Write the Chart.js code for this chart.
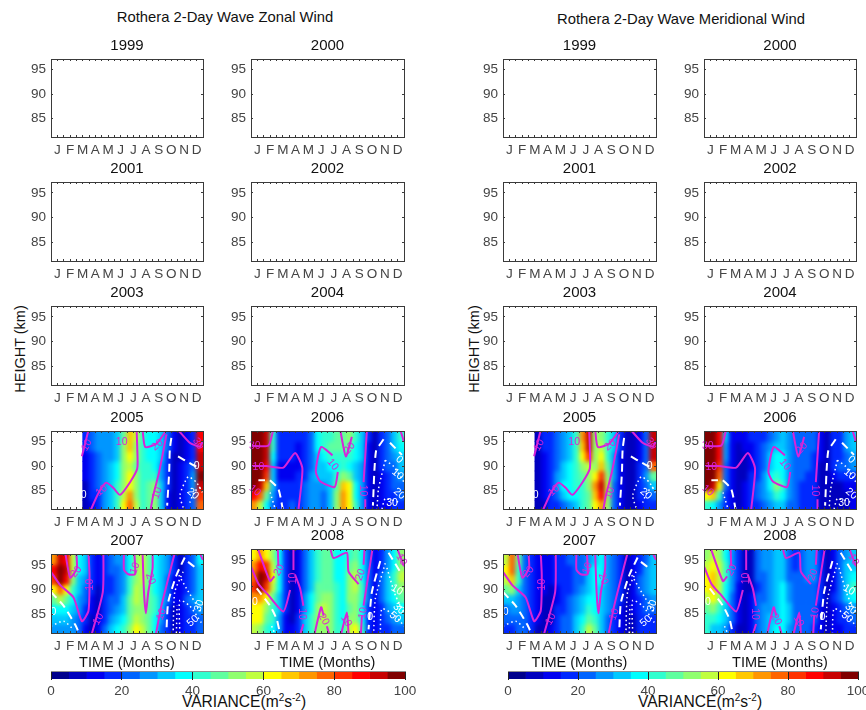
<!DOCTYPE html>
<html>
<head>
<meta charset="utf-8">
<title>Rothera 2-Day Wave</title>
<script src="https://cdn.jsdelivr.net/npm/chart.js@4"></script>
<style>
html, body { margin: 0; padding: 0; background: #fff; overflow: hidden; width: 866px; height: 710px; }
body { position: relative; font-family: Arial, "Liberation Sans", sans-serif; color: #111; }
canvas { position: absolute; }
.txt { position: absolute; white-space: nowrap; transform: translate(-50%, -50%); }
.txt sup { font-size: 10px; line-height: 0; }
</style>
</head>
<body>
<div class="txt" style="left:225px;top:17px;font-size:14.8px">Rothera 2-Day Wave Zonal Wind</div>
<div class="txt" style="left:681px;top:19px;font-size:14.8px">Rothera 2-Day Wave Meridional Wind</div>
<div class="txt" style="left:20px;top:349px;font-size:14.5px;transform:translate(-50%,-50%) rotate(-90deg)">HEIGHT (km)</div>
<div class="txt" style="left:474px;top:349px;font-size:14.5px;transform:translate(-50%,-50%) rotate(-90deg)">HEIGHT (km)</div>
<div class="txt" style="left:244px;top:702px;font-size:15.6px">VARIANCE(m<sup>2</sup>s<sup>-2</sup>)</div>
<div class="txt" style="left:700px;top:702px;font-size:15.6px">VARIANCE(m<sup>2</sup>s<sup>-2</sup>)</div>
<script>
const monthLabels = ['J','F','M','A','M','J','J','A','S','O','N','D'];
const heightTicks = [85, 90, 95];
const varianceTicks = [0, 20, 40, 60, 80, 100];
const halfMonths = ['1a','1b','2a','2b','3a','3b','4a','4b','5a','5b','6a','6b','7a','7b','8a','8b','9a','9b','10a','10b','11a','11b','12a','12b'];
const rowEdges = [97.4, 95, 93, 91, 89, 87, 85, 83, 81];
const palette = ['#00008c','#0000be','#0000f0','#0028ff','#0064ff','#0096ff','#00c8ff','#00ffff','#30ffcf','#60ff9f','#90ff6f','#c0ff3f','#ffff00','#ffc800','#ff9600','#ff6400','#ff3200','#ff0000','#c80000','#800000'];

// rows run from the top of the plot to the bottom, columns are half months
const zonal2005 = [
  [null,null,null,null,null,18,24,26,26,28,32,48,68,55,40,38,36,34,22,11,9,11,15,85],
  [null,null,null,null,null,17,22,26,26,28,32,50,65,52,40,38,36,32,20,11,9,11,17,88],
  [null,null,null,null,null,13,18,24,26,28,33,50,60,50,40,38,36,30,18,9,9,13,18,90],
  [null,null,null,null,null,13,18,22,26,30,36,52,58,48,40,40,38,28,17,8,11,15,22,92],
  [null,null,null,null,null,11,18,20,26,30,38,52,60,50,42,42,42,28,15,8,11,17,25,95],
  [null,null,null,null,null,9,17,20,26,32,40,54,64,50,42,46,52,30,15,8,11,17,25,90],
  [null,null,null,null,null,7,15,18,26,34,42,56,70,52,42,48,54,32,13,7,11,17,22,80],
  [null,null,null,null,null,7,13,18,26,34,44,60,76,56,44,48,52,32,13,7,11,15,20,75]
];
const zonal2006 = [
  [97,97,92,42,19,17,17,15,18,20,36,40,44,46,48,50,42,32,15,9,18,22,30,42],
  [97,97,92,40,17,17,15,11,17,22,36,40,46,48,48,46,38,30,13,9,18,22,30,38],
  [97,97,90,38,15,15,15,11,15,24,34,38,44,44,42,40,36,30,13,9,17,22,26,32],
  [97,97,88,34,13,11,13,13,18,24,30,34,36,36,40,38,34,28,11,9,17,20,24,30],
  [97,96,80,30,13,11,13,15,18,26,30,30,32,40,54,46,34,26,11,7,13,18,22,26],
  [96,92,65,30,15,15,15,17,20,26,28,26,30,46,66,60,36,26,11,7,13,18,20,24],
  [88,78,48,26,17,17,18,18,22,26,26,24,30,50,70,62,38,26,11,7,11,15,18,20],
  [72,58,38,24,18,18,20,18,22,26,26,22,32,52,72,64,40,26,13,7,11,13,15,18]
];
const zonal2007 = [
  [72,90,85,55,38,32,17,11,18,24,26,28,36,50,58,48,36,30,26,17,9,17,24,38],
  [85,97,92,55,36,30,17,11,17,20,22,26,38,52,58,48,36,30,26,15,9,17,24,34],
  [80,97,85,50,34,28,17,11,15,18,20,26,40,54,56,46,36,30,24,13,11,18,22,30],
  [60,75,60,42,30,24,15,9,15,18,22,28,44,56,54,46,38,30,22,11,11,18,24,30],
  [46,55,46,36,28,20,13,9,15,20,24,32,46,56,52,46,40,30,20,11,11,20,26,30],
  [36,38,36,30,26,18,11,9,17,22,26,34,46,54,50,46,40,30,18,9,11,18,24,26],
  [30,32,30,28,24,17,9,11,18,26,32,38,48,56,52,46,38,28,18,9,11,17,18,22],
  [26,28,28,26,20,13,9,13,22,32,36,42,50,64,58,48,36,24,15,9,11,15,18,20]
];
const zonal2008 = [
  [62,70,62,50,36,17,9,11,24,32,44,46,46,38,36,42,46,36,22,13,18,28,38,50],
  [70,88,80,58,36,17,9,11,24,32,44,46,46,38,36,46,50,36,22,13,18,28,38,52],
  [78,97,90,60,36,17,9,11,24,32,44,46,46,38,36,50,56,38,22,13,20,30,40,56],
  [80,97,82,56,36,17,9,13,24,34,46,48,48,40,38,52,58,40,22,13,20,32,42,54],
  [70,72,62,48,32,17,9,13,26,36,48,50,50,40,38,50,54,40,20,13,20,30,38,46],
  [60,62,50,42,30,15,9,13,28,38,50,56,52,42,38,48,50,38,18,13,18,26,32,38],
  [60,62,46,40,28,13,9,15,30,40,50,58,52,42,38,50,54,38,18,13,18,22,26,30],
  [58,50,42,38,26,11,11,17,32,40,50,54,50,42,40,56,60,40,18,13,17,18,20,24]
];
const merid2005 = [
  [null,null,null,null,null,8,15,18,22,28,34,44,70,92,50,50,44,32,17,6,6,11,20,90],
  [null,null,null,null,null,8,15,18,22,28,34,44,68,90,50,55,44,30,15,6,6,11,20,90],
  [null,null,null,null,null,8,13,18,22,28,34,44,62,80,50,60,44,28,13,6,6,13,22,92],
  [null,null,null,null,null,8,13,18,24,32,36,44,52,56,52,68,46,26,11,6,8,15,24,75],
  [null,null,null,null,null,7,13,18,26,34,36,42,46,50,60,80,50,26,11,6,8,17,26,45],
  [null,null,null,null,null,7,13,18,26,36,38,40,44,50,70,90,56,24,11,6,8,17,22,30],
  [null,null,null,null,null,7,11,18,24,32,36,38,42,48,68,88,54,24,11,6,8,15,18,24],
  [null,null,null,null,null,6,9,15,18,24,28,34,40,48,62,74,50,22,11,6,8,13,17,18]
];
const merid2006 = [
  [97,97,88,30,13,11,13,15,17,18,22,28,32,26,22,22,22,20,11,7,15,18,26,34],
  [97,97,88,28,11,9,11,13,17,20,26,30,34,28,22,20,22,20,11,7,15,18,26,32],
  [97,97,86,26,11,9,9,13,17,22,32,36,36,28,20,20,20,18,11,7,15,18,24,28],
  [97,97,84,24,11,9,9,13,18,24,34,38,36,28,22,22,20,18,9,7,15,20,24,26],
  [97,96,78,22,11,9,9,15,18,26,36,44,38,28,22,20,18,18,9,6,13,18,18,18],
  [95,90,60,20,11,9,11,17,20,28,38,50,40,28,22,18,18,18,9,6,9,9,11,13],
  [62,66,40,15,11,9,11,17,20,26,34,44,36,26,20,18,18,17,9,6,7,7,9,11],
  [40,36,28,17,11,9,11,15,18,24,28,34,30,24,20,18,18,17,9,7,7,7,9,11]
];
const merid2007 = [
  [58,78,48,24,17,13,13,11,17,18,20,20,24,28,34,36,26,22,18,9,11,17,24,34],
  [62,78,44,24,17,13,13,11,17,18,18,20,24,30,36,38,28,22,18,9,13,18,26,34],
  [56,66,40,22,15,13,13,11,15,18,18,20,24,30,36,36,28,22,17,9,13,20,28,32],
  [46,50,34,22,15,11,11,9,13,18,18,22,26,32,36,34,28,22,17,9,13,20,26,30],
  [34,34,28,22,15,11,9,6,13,18,20,26,30,36,36,32,28,20,15,9,11,18,24,26],
  [24,26,26,22,17,11,6,6,15,18,22,28,34,42,38,32,26,20,13,9,11,18,22,22],
  [20,22,24,22,18,11,6,9,17,20,24,30,38,46,42,32,24,18,13,9,9,17,18,18],
  [18,18,20,22,18,9,6,11,18,22,24,30,40,56,46,30,22,18,13,7,9,15,17,17]
];
const merid2008 = [
  [52,58,50,38,28,15,7,9,20,26,26,30,32,24,18,24,28,26,18,7,13,20,26,32],
  [56,62,56,40,28,15,7,9,20,26,26,30,34,24,18,24,28,26,18,7,13,22,30,34],
  [60,66,58,40,28,15,7,9,20,24,26,32,34,24,20,24,26,26,17,7,13,22,30,38],
  [62,68,56,38,26,13,7,9,18,24,26,32,36,26,20,22,24,24,17,9,13,22,32,40],
  [56,60,50,36,24,13,7,11,20,24,28,32,36,28,22,22,24,24,15,9,15,22,30,36],
  [48,50,42,34,24,11,7,11,22,26,28,32,36,30,24,22,24,22,13,9,13,18,24,28],
  [44,42,38,32,22,11,7,13,22,28,30,34,38,30,24,22,22,20,11,9,13,17,18,20],
  [40,34,32,28,18,9,7,13,22,28,30,36,38,28,24,22,22,18,11,9,11,13,17,18]
];

// mean wind contours, [month, height] along each line
const solid2005 = [
  [[2.44,92],[2.96,97.4]],
  [[3.14,81],[3.75,84.5],[4.35,86.6],[4.93,85.5],[5.45,84.1],[6.24,86.7],[6.81,89.5],[6.81,93.7],[6.76,97.4]],
  [[7.23,97.4],[7.44,93.9],[8.33,94.6],[9.12,97.4]],
  [[7.86,81],[8.07,84],[8.54,88.8],[9.12,96.5]],
  [[10.03,97.4],[10.95,94.8],[11.74,94],[11.95,95]]
];
const dashed2005 = [
  [[9.5,95.8],[9.38,93.4],[9.33,88.8],[9.17,81.9]],
  [[10.03,92],[10.95,90.6],[11.47,89.9]]
];
const dotted2005 = [
  [[10.43,81.5],[10.17,84],[10.82,87.8],[11.47,86.7],[11.95,84.6]],
  [[10.95,82.5],[11.34,84.8],[11.95,86]]
];
const labels2005 = [
  ['10',2.83,94.3,-60,'m'],['10',5.58,95,0,'m'],['10',4,85,-40,'m'],['20',8.4,94.3,-40,'m'],['10',8.4,84.5,-70,'m'],['30',11.6,94.6,60,'m'],
  ['0',2.57,84,0,'w'],['0',11.5,90,0,'w'],['20',11.2,84.3,40,'w']
];
const solid2006 = [
  [[0,94.2],[1.36,94.2],[1.75,97.4]],
  [[0,90],[1.2,90],[2.54,89.7],[3.46,92.7],[4.03,89.5],[3.72,81]],
  [[6.39,92.2],[5.5,93.9],[5.08,88.9],[5.42,86.9],[6.55,85.7],[6.81,88.8]],
  [[7,97.4],[7.44,92],[7.91,96]],
  [[9.09,97.4],[8.83,86.7]],
  [[8.96,83.2],[8.96,81]],
  [[11.71,97.4],[12,95]]
];
const dashed2006 = [
  [[0.58,87.1],[1.1,87.1]],
  [[1.49,87.1],[2.15,85.3],[2.49,81.2]],
  [[10.4,95.5],[9.8,93],[9.56,81.9]],
  [[10.9,94.8],[11.84,92.3]]
];
const dotted2006 = [
  [[1.5,84.6],[1.9,81.2]],
  [[10.53,91.2],[10,85.3],[9.88,81.2]],
  [[10.53,91.2],[11.2,89.9],[12,86.7]],
  [[10.27,81.2],[10.53,83.3],[11.58,82.6]]
];
const labels2006 = [
  ['30',0.3,94.2,0,'m'],['10',0.58,89.7,0,'m'],['10',0.3,85,40,'m'],['10',6.4,90.3,50,'m'],['20',7.73,93.7,-50,'m'],['10',8.78,85,90,'m'],
  ['0',11.63,91.3,40,'w'],['10',11.5,88.3,40,'w'],['20',11.63,84.3,40,'w'],['30',11.06,82.4,0,'w']
];
const solid2007 = [
  [[1.13,97.4],[1.52,92.4],[2.04,94.3],[2,97.4]],
  [[0,93.6],[0.73,90.9],[1.78,88.4],[2.44,83.6],[2.96,85.7],[3.04,92.9],[2.96,97.4]],
  [[4.14,97.4],[4.09,89.5],[3.22,81]],
  [[5.76,97.4],[5.76,94],[6.1,93.1],[6.63,93.1],[6.58,97.4]],
  [[7.23,97.4],[7.34,89.5],[7.49,85.2],[7.68,89.5],[8.02,94.3],[8.02,97.4]],
  [[9.77,97.4],[9.25,92.2],[8.72,86.7],[8.28,81]],
  [[11.74,97.4],[12,96]]
];
const dashed2007 = [
  [[10.56,96.5],[9.9,92.9],[9.25,87.4],[9.12,81.9]],
  [[10.82,95.6],[11.47,94.3]],
  [[0,89.5],[1,86.7],[1.9,82.9],[2.25,81]]
];
const dotted2007 = [
  [[10.43,93.6],[9.77,89.5],[9.64,81.2]],
  [[10.1,92.9],[10.7,90.2],[11.87,85.3]],
  [[10.17,81.2],[10.17,87.8],[10.95,86.7],[11.87,83.3]],
  [[9.9,81.2],[9.95,86.7]],
  [[0,82.6],[1,83.6],[1.78,81.9]]
];
const labels2007 = [
  ['20',2,93.6,-50,'m'],['10',3.09,91,-90,'m'],['10',3.75,84,-60,'m'],['10',6.63,94.3,-70,'m'],['20',7.86,92.2,70,'m'],['10',8.72,85,-70,'m'],
  ['0',0.2,85.5,0,'w'],['50',11.2,83.6,-40,'w'],['30',11.7,86.7,-70,'w']
];
const solid2008 = [
  [[0.52,97.4],[1.49,91.1],[1.83,92]],
  [[0,93.9],[0.58,90.6],[1.36,88.4],[2.54,85.3],[3.07,89.4]],
  [[2.1,97.4],[2.15,93.9]],
  [[3.33,97.4],[3.33,93.2]],
  [[3.46,92.3],[3.85,89.7],[4.11,86.4]],
  [[4.11,82.9],[3.85,80.9]],
  [[4.98,81],[5.5,86.1],[5.7,84.5]],
  [[5.95,82.5],[6.13,81]],
  [[6.21,97.4],[6.47,95.5],[7.52,96.5],[7.65,92.9],[8.44,90.5]],
  [[7.07,81],[7.52,85.1],[7.65,81]],
  [[8.91,97.4],[8.83,94.2]],
  [[9.54,97.4],[8.83,86.4]],
  [[8.7,84.5],[8.62,81]],
  [[11.45,97.4],[12,93.9]]
];
const dashed2008 = [
  [[0.45,89.7],[1.49,86.4],[2.02,83.8],[2.28,81]],
  [[10.14,94.9],[9.48,89],[9.22,81.9]],
  [[10.79,96.5],[11.84,92.3]]
];
const dotted2008 = [
  [[10.53,94.5],[9.75,87.7],[9.62,81]],
  [[10.66,93.6],[11.32,88.4],[12,85.1]],
  [[10.14,81],[10.27,85.8],[11.32,84.5],[12,82.5]],
  [[1.62,82.5],[1.89,81]]
];
const labels2008 = [
  ['20',2.2,93.2,-60,'m'],['10',3.33,91.6,-90,'m'],['10',4.03,84.8,90,'m'],['20',5.7,83.8,60,'m'],['10',7.47,83.5,60,'m'],['20',8.6,92.3,-70,'m'],['10',8.78,85,-80,'m'],['10',11.8,95.2,60,'m'],
  ['0',0.3,87,0,'w'],['0',9.35,84.2,0,'w'],['10',11.45,89.4,30,'w'],['30',11.6,85.8,40,'w'],['50',11.3,84.2,40,'w']
];

const contours = {
  2005: { solid: solid2005, dashed: dashed2005, dotted: dotted2005, labels: labels2005 },
  2006: { solid: solid2006, dashed: dashed2006, dotted: dotted2006, labels: labels2006 },
  2007: { solid: solid2007, dashed: dashed2007, dotted: dotted2007, labels: labels2007 },
  2008: { solid: solid2008, dashed: dashed2008, dotted: dotted2008, labels: labels2008 }
};
const years = [[1999, 2000], [2001, 2002], [2003, 2004], [2005, 2006], [2007, 2008]];

// pixel layout of the plot boxes
const sides = [
  { cols: [[51, 203], [251, 404]], heat: { 2005: zonal2005, 2006: zonal2006, 2007: zonal2007, 2008: zonal2008 } },
  { cols: [[503, 656], [704, 856]], heat: { 2005: merid2005, 2006: merid2006, 2007: merid2007, 2008: merid2008 } }
];
const rowBoxes = [[59, 137], [182, 261], [306, 385], [431, 509], [554, 633]];
const AXIS = '#3a3a3a', TICK_TEXT = '#444', MAGENTA = '#d824d8';

function colorFor(v) {
  return palette[Math.min(19, Math.floor(v / 5))];
}

// the source is a filled contour plot, so soften the cells once they are all painted
const smoothHeat = {
  id: 'smoothHeat',
  afterDatasetDraw(chart, args) {
    if (args.index !== 0) return;
    const a = chart.chartArea;
    const first = chart.data.datasets[0].data.findIndex(d => d !== null);
    const x0 = first > 0 ? Math.round(chart.scales.xm.getPixelForValue(first / 2)) : a.left;
    const ctx = chart.ctx;
    ctx.save();
    ctx.beginPath();
    ctx.rect(x0, a.top, a.right - x0, a.bottom - a.top);
    ctx.clip();
    ctx.filter = 'blur(2.2px)';
    ctx.drawImage(chart.canvas, x0, a.top, a.right - x0, a.bottom - a.top, x0, a.top, a.right - x0, a.bottom - a.top);
    ctx.restore();
  }
};

const contourLabels = {
  id: 'contourLabels',
  afterDatasetsDraw(chart, args, opts) {
    const ctx = chart.ctx;
    ctx.save();
    ctx.font = '10.5px Arial, "Liberation Sans"';
    ctx.textAlign = 'center';
    ctx.textBaseline = 'middle';
    for (const [text, m, h, angle, kind] of opts.items) {
      ctx.save();
      ctx.translate(chart.scales.xm.getPixelForValue(m), chart.scales.y.getPixelForValue(h));
      ctx.rotate(angle * Math.PI / 180);
      ctx.fillStyle = kind === 'm' ? MAGENTA : '#ffffff';
      ctx.fillText(text, 0, 0);
      ctx.restore();
    }
    ctx.restore();
  }
};

function makeCanvas(left, top, width, height) {
  const c = document.createElement('canvas');
  c.width = width;
  c.height = height;
  c.style.left = left + 'px';
  c.style.top = top + 'px';
  c.style.width = width + 'px';
  c.style.height = height + 'px';
  document.body.appendChild(c);
  return c;
}

function drawPanel(box, yBox, year, heat, showTime) {
  // rightSpace has to cover the tick padding or the layout shrinks the plot
  const titleSpace = 22, leftSpace = 34, rightSpace = 8;
  const bottomSpace = showTime ? 39 : 24;
  const plotW = box[1] - box[0], plotH = yBox[1] - yBox[0];
  const canvas = makeCanvas(box[0] - leftSpace, yBox[0] - titleSpace, leftSpace + plotW + rightSpace, titleSpace + plotH + bottomSpace);

  const datasets = [];
  if (heat) {
    heat.forEach((row, i) => {
      const band = [rowEdges[i + 1], rowEdges[i]];
      datasets.push({
        type: 'bar',
        data: row.map(v => v === null ? null : band),
        backgroundColor: row.map(v => v === null ? 'rgba(0,0,0,0)' : colorFor(v)),
        borderWidth: 0,
        barPercentage: 1,
        categoryPercentage: 1,
        grouped: false,
        xAxisID: 'xc',
        yAxisID: 'y',
        order: 2
      });
    });
    const c = contours[year];
    const addLines = (lines, color, width, dash) => lines.forEach(line => datasets.push({
      type: 'line',
      data: line.map(([x, y]) => ({ x, y })),
      borderColor: color,
      borderWidth: width,
      borderDash: dash,
      pointRadius: 0,
      tension: 0.2,
      fill: false,
      xAxisID: 'xm',
      yAxisID: 'y',
      order: 1
    }));
    addLines(c.solid, MAGENTA, 2, []);
    addLines(c.dashed, '#ffffff', 2, [8, 5]);
    addLines(c.dotted, '#ffffff', 1.5, [1.5, 3]);
  }

  const baseGrid = { drawOnChartArea: false, tickLength: -2, color: AXIS, z: 1, offset: false };
  new Chart(canvas, {
    type: 'bar',
    data: { labels: halfMonths, datasets },
    plugins: heat ? [smoothHeat, contourLabels] : [],
    options: {
      responsive: false,
      animation: false,
      events: [],
      layout: { padding: { right: rightSpace } },
      plugins: {
        legend: { display: false },
        tooltip: { enabled: false },
        title: {
          display: true,
          text: String(year),
          fullSize: false,
          color: '#111',
          font: { size: 15, weight: 'normal', family: 'Arial, "Liberation Sans"', lineHeight: 1.2 },
          padding: { top: 0, bottom: 4 }
        },
        contourLabels: heat ? { items: contours[year].labels } : undefined
      },
      scales: {
        xc: { type: 'category', axis: 'x', display: false, offset: true },
        xm: {
          type: 'linear', axis: 'x', position: 'bottom', min: 0, max: 12, offset: false,
          grid: baseGrid,
          border: { color: AXIS, width: 1, z: 1 },
          ticks: {
            stepSize: 0.5, autoSkip: false, maxRotation: 0, minRotation: 0, padding: 7,
            color: TICK_TEXT,
            font: { size: 13.5, family: 'Arial, "Liberation Sans"' },
            callback: v => Number.isInteger(v) ? '' : monthLabels[Math.floor(v)]
          },
          title: {
            display: showTime,
            text: 'TIME (Months)',
            color: '#111',
            font: { size: 14.5, family: 'Arial, "Liberation Sans"', lineHeight: 1.2 },
            padding: 0
          },
          afterFit: s => { s.height = bottomSpace; }
        },
        xt: {
          type: 'linear', axis: 'x', position: 'top', min: 0, max: 12, offset: false,
          grid: baseGrid,
          border: { color: AXIS, width: 1, z: 1 },
          ticks: { stepSize: 0.5, autoSkip: false, display: false },
          afterFit: s => { s.height = 0; }
        },
        y: {
          type: 'linear', axis: 'y', position: 'left', min: 81.2, max: 97.2,
          grid: baseGrid,
          border: { color: AXIS, width: 1, z: 1 },
          afterBuildTicks: s => { s.ticks = heightTicks.map(value => ({ value })); },
          ticks: { padding: 7, color: TICK_TEXT, font: { size: 13.5, family: 'Arial, "Liberation Sans"' } },
          afterFit: s => { s.width = leftSpace; }
        },
        yr: {
          type: 'linear', axis: 'y', position: 'right', min: 81.2, max: 97.2,
          grid: baseGrid,
          border: { color: AXIS, width: 1, z: 1 },
          afterBuildTicks: s => { s.ticks = heightTicks.map(value => ({ value })); },
          ticks: { display: false },
          afterFit: s => { s.width = 0; }
        }
      }
    }
  });
}

function drawColorbar(left, right) {
  const leftSpace = 16, rightSpace = 16, topSpace = 1, barH = 7, bottomSpace = 26;
  const canvas = makeCanvas(left - leftSpace, 672 - topSpace, leftSpace + right - left + rightSpace, topSpace + barH + bottomSpace);
  new Chart(canvas, {
    type: 'bar',
    data: {
      labels: [''],
      datasets: palette.map((color, i) => ({
        data: [[i * 5, i * 5 + 5]],
        backgroundColor: color,
        borderWidth: 0,
        barPercentage: 1,
        categoryPercentage: 1,
        grouped: false
      }))
    },
    options: {
      indexAxis: 'y',
      responsive: false,
      animation: false,
      events: [],
      layout: { padding: { left: leftSpace, right: rightSpace, top: topSpace } },
      plugins: { legend: { display: false }, tooltip: { enabled: false } },
      scales: {
        y: { display: false, offset: true },
        x: {
          type: 'linear', min: 0, max: 100, position: 'bottom',
          afterBuildTicks: s => { s.ticks = varianceTicks.map(value => ({ value })); },
          grid: { color: '#222', tickLength: 0, z: 1, offset: false },
          border: { color: '#222' },
          ticks: { autoSkip: false, maxRotation: 0, padding: 4, color: TICK_TEXT, font: { size: 13.5, family: 'Arial, "Liberation Sans"' } },
          afterFit: s => { s.height = bottomSpace; }
        },
        xt: {
          type: 'linear', axis: 'x', position: 'top', min: 0, max: 100,
          grid: { display: false },
          border: { color: '#222' },
          ticks: { display: false },
          afterFit: s => { s.height = 0; }
        }
      }
    }
  });
}

for (const side of sides) {
  years.forEach((pair, r) => {
    pair.forEach((year, c) => {
      let yBox = rowBoxes[r];
      if (year === 2008) yBox = [549, 633];
      drawPanel(side.cols[c], yBox, year, side.heat[year], r === 4);
    });
  });
}
drawColorbar(51, 405);
drawColorbar(508, 858);
</script>
</body>
</html>
